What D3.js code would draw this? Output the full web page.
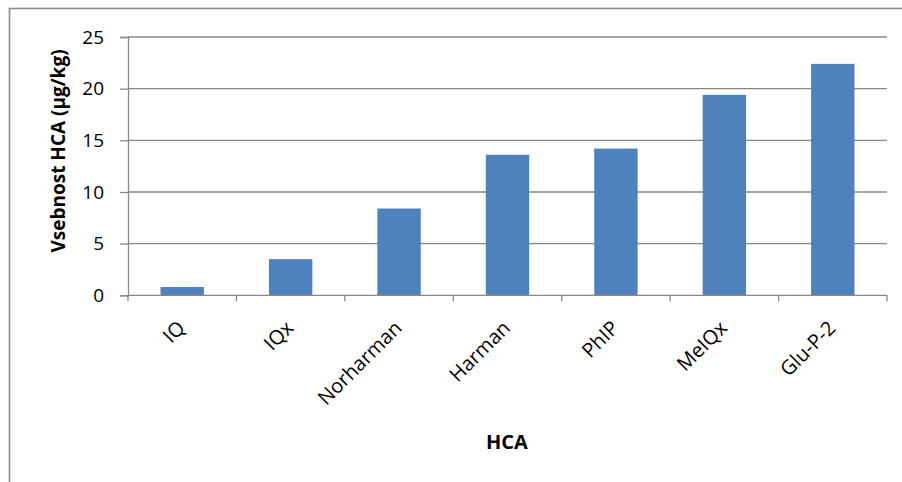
<!DOCTYPE html>
<html>
<head>
<meta charset="utf-8">
<script src="https://cdn.jsdelivr.net/npm/d3@7"></script>
<style>
  html, body { margin: 0; padding: 0; background: #fff; }
  svg { display: block; }
  text { font-family: "Open Sans", "Noto Sans", sans-serif; fill: #000; }
</style>
</head>
<body>
<svg id="chart" width="902" height="482"></svg>
<script>
// HCA content per compound
const categories = ["IQ", "IQx", "Norharman", "Harman", "PhIP", "MeIQx", "Glu-P-2"];
const values = [0.8, 3.5, 8.4, 13.6, 14.2, 19.4, 22.4];
const yTicks = [0, 5, 10, 15, 20, 25];
const yTitle = "Vsebnost HCA (µg/kg)";
const xTitle = "HCA";

const svg = d3.select("#chart");
const plot = { left: 128, right: 887, top: 37, bottom: 295.3 };

// outer chart frame
svg.append("rect")
  .attr("x", 9.5).attr("y", 8.5)
  .attr("width", 1000).attr("height", 1000)
  .attr("fill", "none").attr("stroke", "#8c8c8c").attr("stroke-width", 1.6);

const x = d3.scaleBand()
  .domain(categories)
  .range([plot.left, plot.right])
  .paddingInner(0.6)
  .paddingOuter(0.3);

const y = d3.scaleLinear().domain([0, 25]).range([plot.bottom, plot.top]);

// horizontal gridlines
svg.append("g")
  .selectAll("line")
  .data(yTicks.filter(d => d > 0))
  .join("line")
  .attr("x1", plot.left).attr("x2", plot.right)
  .attr("y1", d => y(d)).attr("y2", d => y(d))
  .attr("stroke", "#888").attr("stroke-width", 1.3);

// bars
svg.append("g")
  .selectAll("rect")
  .data(values)
  .join("rect")
  .attr("x", (d, i) => x(categories[i]))
  .attr("width", x.bandwidth())
  .attr("y", d => y(d))
  .attr("height", d => y(0) - y(d))
  .attr("fill", "#4f81bd");

// y axis
const yAxis = svg.append("g")
  .attr("transform", `translate(${plot.left},0)`)
  .call(d3.axisLeft(y).tickValues(yTicks).tickSize(8).tickPadding(16).tickFormat(d3.format("d")));
yAxis.select(".domain").attr("stroke", "#888").attr("stroke-width", 1.3);
yAxis.selectAll(".tick line").attr("stroke", "#888").attr("stroke-width", 1.3);
yAxis.selectAll(".tick text")
  .attr("font-size", 19).attr("font-family", "Open Sans, sans-serif").attr("fill", "#000");

// x axis: line with tick marks on category boundaries
const xAxisG = svg.append("g").attr("transform", `translate(0,${plot.bottom})`);
xAxisG.append("line")
  .attr("x1", plot.left).attr("x2", plot.right)
  .attr("y1", 0).attr("y2", 0)
  .attr("stroke", "#888").attr("stroke-width", 1.3);
const edges = d3.range(categories.length + 1).map(i => plot.left + i * x.step());
xAxisG.selectAll("line.tk")
  .data(edges)
  .join("line")
  .attr("class", "tk")
  .attr("x1", d => d).attr("x2", d => d)
  .attr("y1", 0).attr("y2", 6)
  .attr("stroke", "#888").attr("stroke-width", 1.3);

// rotated category labels
xAxisG.selectAll("text.cat")
  .data(categories)
  .join("text")
  .attr("class", "cat")
  .attr("text-anchor", "end")
  .attr("font-size", 20)
  .attr("transform", d => `translate(${x(d) + x.bandwidth() / 2 + 4},${34}) rotate(-45)`)
  .text(d => d);

// axis titles
svg.append("text")
  .attr("transform", `translate(65,151) rotate(-90)`)
  .attr("text-anchor", "middle")
  .attr("font-size", 19).attr("font-weight", "bold")
  .text(yTitle);

svg.append("text")
  .attr("x", 507).attr("y", 449)
  .attr("text-anchor", "middle")
  .attr("font-size", 20).attr("font-weight", "bold")
  .text(xTitle);
</script>
</body>
</html>
